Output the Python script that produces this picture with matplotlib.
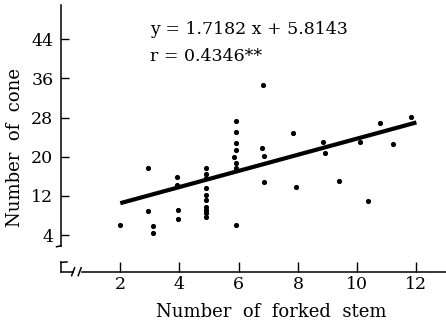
import matplotlib
matplotlib.use("Agg")
import matplotlib.pyplot as plt

plt.rcParams['font.family'] = ['DejaVu Serif']

# forked stems vs cones
stems = [2.0, 2.95, 2.95, 3.1, 3.1, 3.9, 3.9, 3.95, 3.95,
         4.9, 4.9, 4.9, 4.9, 4.9, 4.9, 4.9, 4.9, 4.9, 4.9,
         5.9, 5.9, 5.9, 5.9, 5.85, 5.9, 5.9, 5.9,
         6.82, 6.78, 6.85, 6.85,
         7.83, 7.95, 8.85, 8.9, 9.39, 10.08, 10.38, 10.76, 11.21, 11.83]
cones = [6.0, 17.6, 9.0, 5.8, 4.5, 15.8, 14.3, 9.2, 7.3,
         17.7, 16.4, 15.6, 13.7, 12.2, 11.1, 9.8, 9.1, 8.4, 7.7,
         27.3, 25.0, 22.8, 21.4, 19.9, 18.8, 17.6, 6.0,
         34.6, 21.7, 20.2, 14.9,
         24.9, 13.9, 23.0, 20.7, 15.1, 23.0, 10.9, 26.9, 22.5, 28.1]

fit_x = [2, 12]
fit_y = [10.5, 27.0]

xticks = [2, 4, 6, 8, 10, 12]
yticks = [4, 12, 20, 28, 36, 44]

fig = plt.figure(figsize=(4.46, 3.24), dpi=100)
ax = fig.add_axes([0.1368, 0.1614, 0.8632, 0.8232])
ax.set_xlim(0, 13)
ax.set_ylim(-3.5, 51)

ax.plot(fit_x, fit_y, color='black', lw=3, solid_capstyle='butt')
ax.plot(stems, cones, 'o', color='black', ms=2.7)

for s in ax.spines.values():
    s.set_visible(False)

# broken axes drawn by hand
k = dict(color='black', lw=1.1, clip_on=False)
ax.plot([0, 0], [1.8, 51], **k)
ax.plot([-0.15, 0.0], [1.6, 1.8], **k)
ax.plot([0, 0], [-1.6, -3.5], **k)
ax.plot([0.0, 0.2], [-1.6, -1.5], **k)
ax.plot([0, 0.42], [-3.5, -3.5], **k)
ax.plot([0.72, 13], [-3.5, -3.5], **k)
ax.plot([0.36, 0.46], [-4.3, -2.7], **k)
ax.plot([0.58, 0.68], [-4.3, -2.7], **k)

ax.set_xticks(xticks)
ax.set_yticks(yticks)
ax.tick_params(axis='x', direction='in', length=7, width=1, pad=3,
               labelsize=12.5, bottom=True)
ax.tick_params(axis='y', direction='in', length=6, width=1, pad=5.5,
               labelsize=12.5, left=True)

ax.set_xlabel('Number  of  forked  stem', fontsize=13)
ax.xaxis.set_label_coords(0.545, -0.117)
ax.set_ylabel('Number  of  cone', fontsize=13)
ax.yaxis.set_label_coords(-0.096, 0.464)

ax.text(3.0, 46, 'y = 1.7182 x + 5.8143', fontsize=12.5, va='center')
ax.text(3.0, 40.4, 'r = 0.4346**', fontsize=12.5, va='center')

fig.savefig('out.png', dpi=100)
